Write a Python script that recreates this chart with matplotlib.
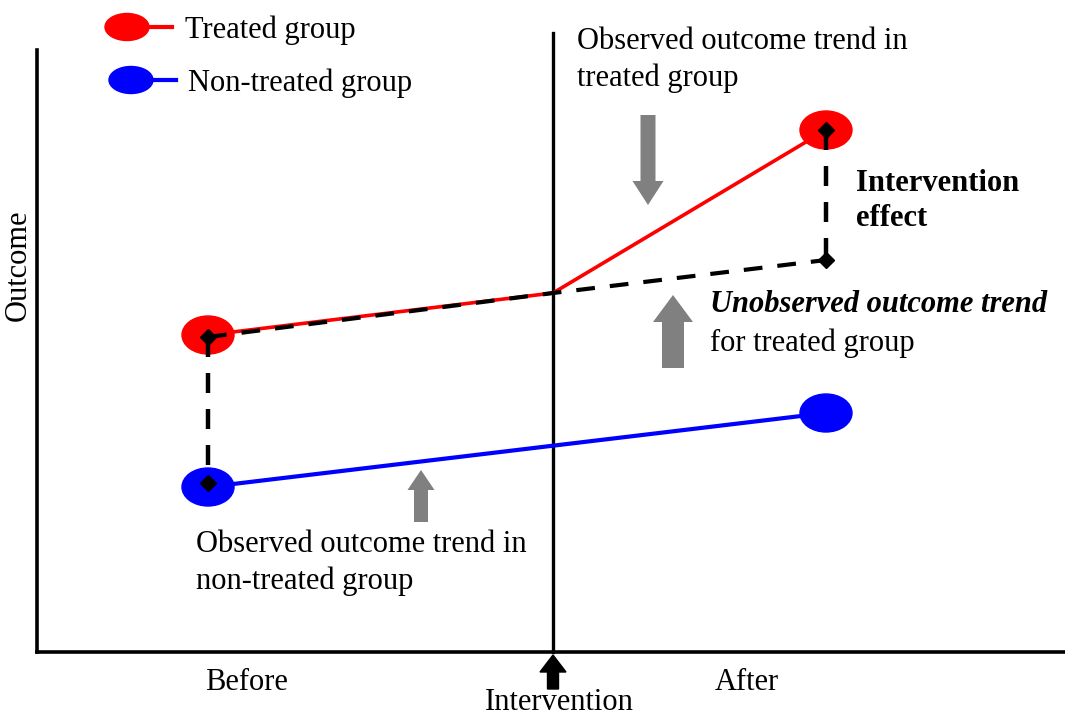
import matplotlib.pyplot as plt
from matplotlib.patches import Ellipse, FancyArrow

plt.rcParams['font.family'] = ['Liberation Serif', 'DejaVu Serif']

# time positions (before, intervention, after) and outcome values
t_before, t_interv, t_after = 208, 553, 826
treated = [381, 423, 586]          # before, at intervention, after
control = [229, 303]               # before, after
counterfactual = [379, 423, 456]   # unobserved trend for treated group

fig = plt.figure(figsize=(10.65, 7.16), dpi=100)
ax = fig.add_axes([37 / 1065, 64 / 716, 1028 / 1065, 602 / 716])
ax.set_xlim(37, 1065)
ax.set_ylim(64, 666)
ax.set_xticks([])
ax.set_yticks([])
for s in ['top', 'right']:
    ax.spines[s].set_visible(False)
ax.spines['left'].set_linewidth(2.6)
ax.spines['bottom'].set_linewidth(2.6)

fs = 22
dash = (4.5, 3.6)

# intervention line
ax.plot([t_interv, t_interv], [64, 683], color='black', lw=2.4, clip_on=False)

# treated and non-treated lines
ax.plot([t_before, t_interv, t_after], treated, color='red', lw=2.6, zorder=3)
ax.plot([t_before, t_after], control, color='blue', lw=3, zorder=3)

# counterfactual dashed
ax.plot([t_before, t_interv, t_after], counterfactual, color='black', lw=3,
        dashes=dash, zorder=4)

# vertical dashed gaps
ax.plot([t_before, t_before], [counterfactual[0], control[0] + 4], color='black',
        lw=3.2, dashes=dash, zorder=4)
ax.plot([t_after, t_after], [treated[2], counterfactual[2]], color='black',
        lw=3.2, dashes=dash, zorder=4)

# dots
for (x, y, c) in [(t_before, treated[0], 'red'), (t_after, treated[2], 'red'),
                  (t_before, control[0], 'blue'), (t_after, control[1], 'blue')]:
    ax.add_patch(Ellipse((x, y), 52, 38, color=c, zorder=2))

# diamonds
ax.plot([t_before, t_before, t_after, t_after],
        [counterfactual[0], control[0] + 4, treated[2], counterfactual[2]],
        linestyle='none', marker='D', ms=8.5, color='black', zorder=5)

# legend
ax.add_patch(Ellipse((127, 689), 44, 27, color='red', clip_on=False))
ax.plot([130, 172], [689, 689], color='red', lw=3, clip_on=False)
ax.text(185, 686, 'Treated group', fontsize=fs, va='center', ha='left')
ax.add_patch(Ellipse((131, 636), 44, 27, color='blue', clip_on=False))
ax.plot([135, 176], [636, 636], color='blue', lw=3, clip_on=False)
ax.text(188, 633, 'Non-treated group', fontsize=fs, va='center', ha='left')

# axis labels
ax.text(18, 451, 'Outcome', fontsize=fs, rotation=90, va='center', ha='center')
ax.text(247, 33, 'Before', fontsize=fs, va='center', ha='center')
ax.text(747, 33, 'After', fontsize=fs, va='center', ha='center')
ax.text(559, 13, 'Intervention', fontsize=fs, va='center', ha='center')

# black arrow at intervention
ax.add_patch(FancyArrow(t_interv, 27, 0, 34, width=11, head_width=26, head_length=17,
                        length_includes_head=True, color='black', clip_on=False))

# annotations
ax.text(577, 656, 'Observed outcome trend in\ntreated group', fontsize=fs,
        va='center', ha='left', linespacing=1.32)
ax.add_patch(FancyArrow(648, 601, 0, -90, width=15, head_width=31, head_length=24,
                        length_includes_head=True, color='#808080', lw=0))

ax.text(856, 515, 'Intervention\neffect', fontsize=fs, fontweight='bold',
        va='center', ha='left', linespacing=1.25)

ax.add_patch(FancyArrow(673, 348, 0, 73, width=22, head_width=40, head_length=27,
                        length_includes_head=True, color='#808080', lw=0))
ax.text(710, 411, 'Unobserved outcome trend', fontsize=fs, fontweight='bold',
        fontstyle='italic', va='center', ha='left')
ax.text(710, 373, 'for treated group', fontsize=fs, va='center', ha='left')

ax.add_patch(FancyArrow(421, 194, 0, 52, width=14, head_width=27, head_length=20,
                        length_includes_head=True, color='#808080', lw=0))
ax.text(196, 153, 'Observed outcome trend in\nnon-treated group', fontsize=fs,
        va='center', ha='left', linespacing=1.32)

fig.savefig('out.png', dpi=100)
